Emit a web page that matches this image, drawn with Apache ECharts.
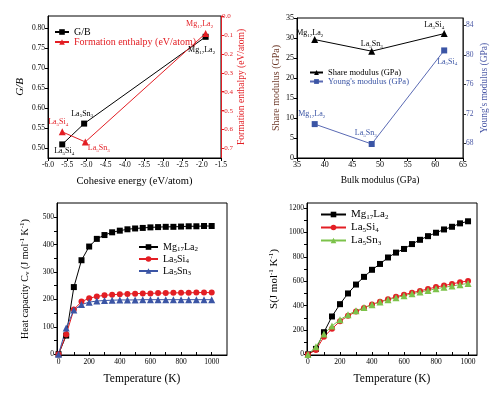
<!DOCTYPE html>
<html><head><meta charset="utf-8">
<script src="https://cdn.jsdelivr.net/npm/echarts@6/dist/echarts.min.js"></script>
<style>html,body{margin:0;padding:0;background:#fff}#c{width:500px;height:398px}</style>
</head><body><div id="c"></div>
<script>
// ---------- Panel 1: G/B and formation enthalpy vs cohesive energy ----------
const p1Compounds = ['La5Si4', 'La5Sn3', 'Mg17La2'];
const p1CohesiveGB = [-5.63, -5.06, -1.90];
const p1GB = [0.509, 0.561, 0.778];
const p1CohesiveFE = [-5.63, -5.03, -1.90];
const p1FormEnthalpy = [-0.612, -0.665, -0.092];
const p1XTicks = [-6.0, -5.5, -5.0, -4.5, -4.0, -3.5, -3.0, -2.5, -2.0, -1.5];
const p1YLeftTicks = [0.50, 0.55, 0.60, 0.65, 0.70, 0.75, 0.80];
const p1YRightTicks = [0.0, -0.1, -0.2, -0.3, -0.4, -0.5, -0.6, -0.7];

// ---------- Panel 2: share / Young's modulus vs bulk modulus ----------
const p2Compounds = ['Mg17La2', 'La5Sn3', 'La5Si4'];
const p2Bulk = [38.2, 48.5, 61.6];
const p2Share = [29.6, 26.7, 31.1];
const p2Young = [70.6, 67.9, 80.6];
const p2YRightTicks = [68, 72, 76, 80, 84];

// ---------- Panel 3 & 4: temperature series ----------
const temperature = [0, 50, 100, 150, 200, 250, 300, 350, 400, 450, 500, 550, 600, 650, 700, 750, 800, 850, 900, 950, 1000];
const cvMg17La2 = [0, 68, 245, 343, 393, 421, 435, 445, 451, 456, 459, 461, 463, 464, 465, 465, 466, 467, 467, 468, 468];
const cvLa5Si4 = [0, 72, 163, 192, 204, 211, 215, 217, 219, 220, 221, 222, 222, 223, 223, 224, 224, 224, 225, 225, 225];
const cvLa5Sn3 = [0, 96, 161, 181, 190, 194, 196, 197, 198, 198, 198, 199, 199, 199, 199, 199, 199, 199, 199, 199, 199];
const sMg17La2 = [0, 45, 182, 311, 412, 500, 573, 636, 694, 742, 795, 835, 865, 905, 940, 970, 998, 1025, 1047, 1075, 1092];
const sLa5Si4 = [0, 36, 145, 210, 272, 316, 351, 381, 410, 432, 452, 472, 490, 506, 521, 537, 552, 565, 578, 592, 603];
const sLa5Sn3 = [0, 62, 168, 233, 285, 325, 358, 384, 408, 430, 448, 465, 482, 497, 511, 525, 538, 550, 561, 572, 582];
const tempTicks = [0, 200, 400, 600, 800, 1000];
const tempMinorTicks = [0, 100, 200, 300, 400, 500, 600, 700, 800, 900, 1000];
const p3YTicks = [0, 100, 200, 300, 400, 500];
const p3YMinorTicks = [0, 50, 100, 150, 200, 250, 300, 350, 400, 450, 500];
const p4YTicks = [0, 200, 400, 600, 800, 1000, 1200];
const p4YMinorTicks = [0, 100, 200, 300, 400, 500, 600, 700, 800, 900, 1000, 1100, 1200];

const F = '"Liberation Serif", "DejaVu Serif", serif';
const RED = '#e31e24', BLUE = '#3b55a5', GREEN = '#7cc24a', BROWN = '#6e3a2a', YBLUE = '#4a58a6';

function rich(size, color) {
  const sub = Math.round(size * 0.68);
  return {
    n: {fontSize: size, fontFamily: F, fontWeight: 'normal', color: color, lineHeight: size + 2},
    s: {fontSize: sub, fontFamily: F, fontWeight: 'normal', color: color, lineHeight: sub + 1, verticalAlign: 'bottom'},
    p: {fontSize: sub, fontFamily: F, fontWeight: 'normal', color: color, lineHeight: sub + 1, verticalAlign: 'top'},
    i: {fontSize: size, fontFamily: F, fontWeight: 'normal', color: color, lineHeight: size + 2, fontStyle: 'italic'}
  };
}
function chem(s) {
  return s.split(/(\d+)/).map((p, i) => p === '' ? '' : (i % 2 ? '{s|' + p + '}' : '{n|' + p + '}')).join('');
}
function pts(xs, ys, names, places, color, fs) {
  return xs.map((x, i) => ({
    value: [x, ys[i]],
    label: {show: true, position: places[i][0], offset: places[i][1], distance: 3,
      formatter: () => chem(names[i]), rich: rich(fs, color)}
  }));
}
function xyData(xs, ys) { return xs.map((x, i) => [x, ys[i]]); }

function axis(o) {
  const nc = o.nameColor || '#000';
  const nfs = o.nfs || 10;
  const a = {
    type: 'value', gridIndex: o.grid, min: o.min, max: o.max, position: o.pos,
    axisLine: {show: true, onZero: false, lineStyle: {color: o.lineColor || '#000', width: 1}},
    axisTick: {show: true, inside: !!o.inside, length: 3, customValues: o.tickVals || o.labelVals,
      lineStyle: {color: o.lineColor || '#000'}},
    axisLabel: {customValues: o.labelVals, formatter: o.fmt, fontSize: o.lfs || 8, fontFamily: F,
      color: o.labelColor || '#000', margin: o.margin || 3},
    splitLine: {show: false},
    name: o.richName || ('{n|' + o.name + '}'), nameLocation: 'middle', nameGap: o.gap,
    nameTextStyle: {fontSize: nfs, fontFamily: F, fontWeight: 'normal', color: nc, rich: rich(nfs, nc)}
  };
  if (o.rotate !== undefined) a.nameRotate = o.rotate;
  return a;
}

const chart = echarts.init(document.getElementById('c'), null, {renderer: 'canvas'});

const gridBase = {show: true, borderColor: '#000', borderWidth: 1, backgroundColor: 'transparent', outerBoundsMode: 'none', containLabel: false};

const option = {
  backgroundColor: '#fff',
  animation: false,
  grid: [
    Object.assign({left: 48, top: 16, width: 173, height: 142}, gridBase),
    Object.assign({left: 297, top: 18, width: 166, height: 140}, gridBase),
    Object.assign({left: 57, top: 203, width: 170, height: 152}, gridBase),
    Object.assign({left: 307, top: 203, width: 170, height: 152}, gridBase)
  ],
  xAxis: [
    axis({grid: 0, min: -6, max: -1.5, labelVals: p1XTicks, fmt: v => v.toFixed(1), lfs: 7.5,
      name: 'Cohesive energy (eV/atom)', gap: 17, nfs: 10.5}),
    axis({grid: 1, min: 35, max: 65, labelVals: [35, 40, 45, 50, 55, 60, 65], fmt: v => String(v), lfs: 8,
      name: 'Bulk modulus (GPa)', gap: 17, nfs: 9.5}),
    axis({grid: 2, min: -10, max: 1100, labelVals: tempTicks, tickVals: tempMinorTicks, inside: true,
      fmt: v => String(v), lfs: 7.5, name: 'Temperature (K)', gap: 17, nfs: 11.5}),
    axis({grid: 3, min: -6, max: 1056, labelVals: tempTicks, tickVals: tempMinorTicks, inside: true,
      fmt: v => String(v), lfs: 7.5, name: 'Temperature (K)', gap: 17, nfs: 11.5})
  ],
  yAxis: [
    axis({grid: 0, pos: 'left', min: 0.475, max: 0.83, labelVals: p1YLeftTicks, fmt: v => v.toFixed(2), lfs: 7.5,
      richName: '{i|G/B}', nfs: 11, gap: 21, rotate: 90}),
    axis({grid: 0, pos: 'right', min: -0.75, max: 0, labelVals: p1YRightTicks, fmt: v => v.toFixed(1), lfs: 7,
      lineColor: RED, labelColor: RED, nameColor: RED, name: 'Formation enthalpy (eV/atom)', gap: 11, nfs: 9.5, rotate: 90, margin: 1}),
    axis({grid: 1, pos: 'left', min: 0, max: 35, labelVals: [0, 5, 10, 15, 20, 25, 30, 35], fmt: v => String(v), lfs: 8,
      nameColor: BROWN, name: 'Share modulus (GPa)', gap: 15, nfs: 10, rotate: 90}),
    axis({grid: 1, pos: 'right', min: 66, max: 85, labelVals: p2YRightTicks, fmt: v => String(v), lfs: 7.5,
      lineColor: '#333', labelColor: YBLUE, nameColor: YBLUE, name: "Young's modulus (GPa)", gap: 16, nfs: 9.5, rotate: 90}),
    axis({grid: 2, pos: 'left', min: -3, max: 552, labelVals: p3YTicks, tickVals: p3YMinorTicks, fmt: v => String(v), lfs: 7.5,
      richName: '{n|Heat capacity C}{s|v}{n| (J mol}{p|-1}{n| K}{p|-1}{n|)}', nfs: 10, gap: 26, rotate: 90}),
    axis({grid: 3, pos: 'left', min: -5, max: 1242, labelVals: p4YTicks, tickVals: p4YMinorTicks, fmt: v => String(v), lfs: 7.5,
      richName: '{n|S(J mol}{p|-1}{n| K}{p|-1}{n|)}', nfs: 11, gap: 26, rotate: 90})
  ],
  legend: [
    {left: 54, top: 27, orient: 'vertical', padding: 0, itemGap: 0, itemWidth: 14, itemHeight: 7,
      formatter: n => chem(n),
      data: [{name: 'G/B', textStyle: {rich: rich(10, '#000')}},
             {name: 'Formation enthalpy (eV/atom)', textStyle: {rich: rich(10, RED)}}]},
    {left: 309, top: 68, orient: 'vertical', padding: 0, itemGap: 0, itemWidth: 13, itemHeight: 6,
      formatter: n => chem(n),
      data: [{name: 'Share modulus (GPa)', textStyle: {rich: rich(8.5, '#000')}},
             {name: "Young's modulus (GPa)", textStyle: {rich: rich(8.5, BLUE)}}]},
    {left: 138, top: 242, orient: 'vertical', padding: 0, itemGap: 1, itemWidth: 19, itemHeight: 7,
      formatter: n => chem(n.slice(2)),
      data: [{name: 'c:Mg17La2', textStyle: {rich: rich(10, '#000')}},
             {name: 'c:La5Si4', textStyle: {rich: rich(10, '#000')}},
             {name: 'c:La5Sn3', textStyle: {rich: rich(10, '#000')}}]},
    {left: 320, top: 209, orient: 'vertical', padding: 0, itemGap: 1, itemWidth: 25, itemHeight: 7,
      formatter: n => chem(n.slice(2)),
      data: [{name: 's:Mg17La2', textStyle: {rich: rich(11, '#000')}},
             {name: 's:La5Si4', textStyle: {rich: rich(11, '#000')}},
             {name: 's:La5Sn3', textStyle: {rich: rich(11, '#000')}}]}
  ],
  series: [
    {name: 'G/B', type: 'line', xAxisIndex: 0, yAxisIndex: 0, symbol: 'rect', symbolSize: 6,
      color: '#000', lineStyle: {width: 1, color: '#000'}, itemStyle: {color: '#000'},
      data: pts(p1CohesiveGB, p1GB, p1Compounds,
        [['bottom', [2, -4]], ['top', [-2, 1]], ['bottom', [-4, 2]]], '#000', 8)},
    {name: 'Formation enthalpy (eV/atom)', type: 'line', xAxisIndex: 0, yAxisIndex: 1, symbol: 'triangle', symbolSize: 7,
      color: RED, lineStyle: {width: 1, color: RED}, itemStyle: {color: RED},
      data: pts(p1CohesiveFE, p1FormEnthalpy, p1Compounds,
        [['top', [-4, 2]], ['right', [-4, 6]], ['top', [-6, 2]]], RED, 8)},
    {name: 'Share modulus (GPa)', type: 'line', xAxisIndex: 1, yAxisIndex: 2, symbol: 'triangle', symbolSize: 7,
      color: '#000', lineStyle: {width: 1, color: '#000'}, itemStyle: {color: '#000'},
      data: pts(p2Bulk, p2Share, p2Compounds,
        [['top', [-5, 5]], ['top', [0, 4]], ['top', [-10, 3]]], '#000', 8)},
    {name: "Young's modulus (GPa)", type: 'line', xAxisIndex: 1, yAxisIndex: 3, symbol: 'rect', symbolSize: 6,
      color: BLUE, lineStyle: {width: 1, color: '#5a6ab4'}, itemStyle: {color: BLUE},
      data: pts(p2Bulk, p2Young, p2Compounds,
        [['top', [-3, 1]], ['top', [-6, 0]], ['bottom', [3, 0]]], BLUE, 8)},
    {name: 'c:Mg17La2', type: 'line', xAxisIndex: 2, yAxisIndex: 4, symbol: 'rect', symbolSize: 6,
      color: '#000', lineStyle: {width: 1, color: '#000'}, itemStyle: {color: '#000'}, data: xyData(temperature, cvMg17La2)},
    {name: 'c:La5Si4', type: 'line', xAxisIndex: 2, yAxisIndex: 4, symbol: 'circle', symbolSize: 6,
      color: RED, lineStyle: {width: 1, color: RED}, itemStyle: {color: RED}, data: xyData(temperature, cvLa5Si4)},
    {name: 'c:La5Sn3', type: 'line', xAxisIndex: 2, yAxisIndex: 4, symbol: 'triangle', symbolSize: 7,
      color: BLUE, lineStyle: {width: 1, color: BLUE}, itemStyle: {color: BLUE}, data: xyData(temperature, cvLa5Sn3)},
    {name: 's:Mg17La2', type: 'line', xAxisIndex: 3, yAxisIndex: 5, symbol: 'rect', symbolSize: 6,
      color: '#000', lineStyle: {width: 1, color: '#000'}, itemStyle: {color: '#000'}, data: xyData(temperature, sMg17La2)},
    {name: 's:La5Si4', type: 'line', xAxisIndex: 3, yAxisIndex: 5, symbol: 'circle', symbolSize: 6,
      color: RED, lineStyle: {width: 1, color: RED}, itemStyle: {color: RED}, data: xyData(temperature, sLa5Si4)},
    {name: 's:La5Sn3', type: 'line', xAxisIndex: 3, yAxisIndex: 5, symbol: 'triangle', symbolSize: 7,
      color: GREEN, lineStyle: {width: 1, color: GREEN}, itemStyle: {color: GREEN}, data: xyData(temperature, sLa5Sn3)}
  ]
};
chart.setOption(option);
</script>
</body></html>
